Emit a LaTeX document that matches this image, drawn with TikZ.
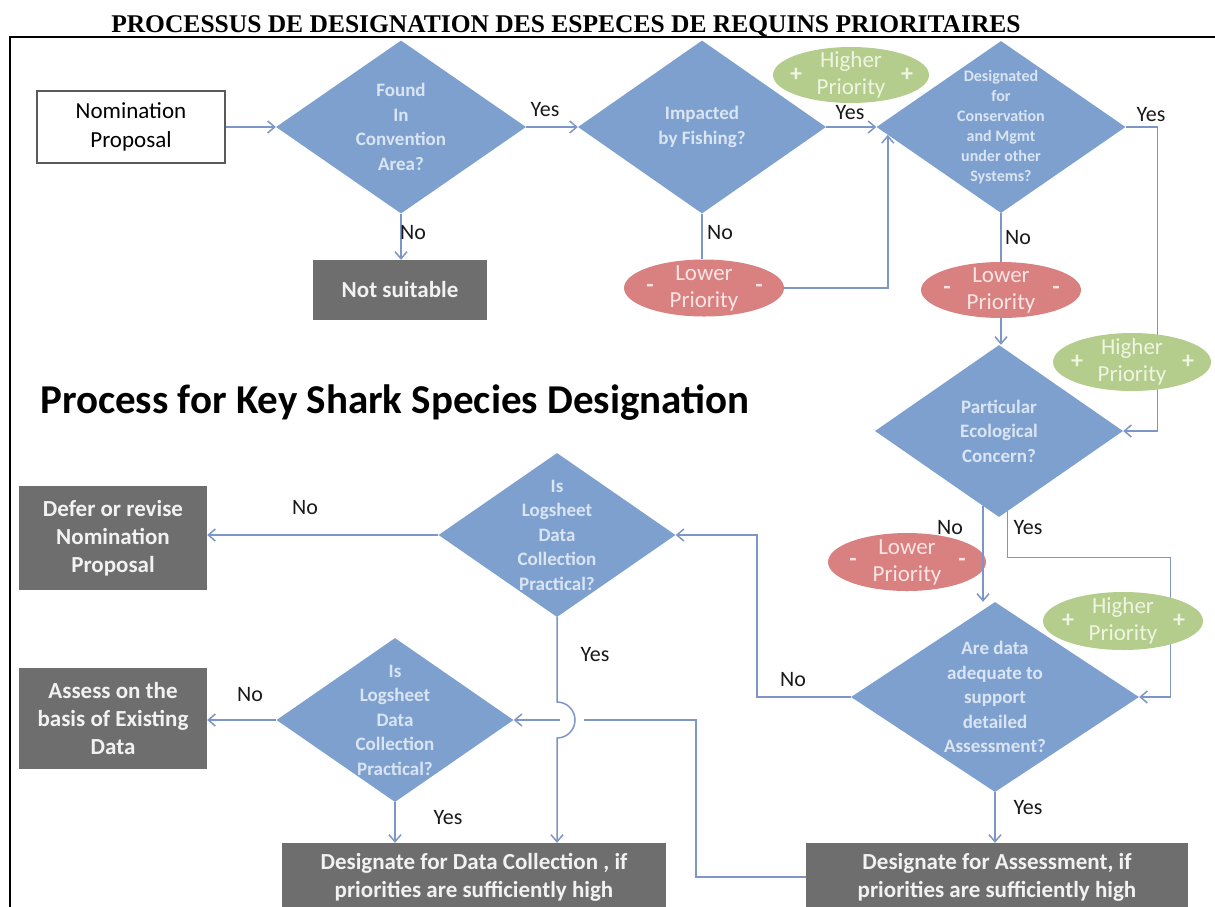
\documentclass[tikz,border=0pt]{standalone}
\usepackage{fontspec}
\setmainfont{Carlito}
\newfontfamily\serifttl{Liberation Serif}
\usetikzlibrary{shapes.geometric,arrows.meta,calc}
\pgfdeclarelayer{bg}
\pgfsetlayers{bg,main}
\definecolor{dia}{RGB}{126,160,206}
\definecolor{diatext}{RGB}{218,229,243}
\definecolor{gbox}{RGB}{110,110,110}
\definecolor{gtext}{RGB}{242,242,242}
\definecolor{redell}{RGB}{217,128,128}
\definecolor{redtext}{RGB}{250,228,228}
\definecolor{grell}{RGB}{180,205,140}
\definecolor{grtext}{RGB}{238,245,226}
\definecolor{connc}{RGB}{125,150,198}
\definecolor{nomb}{RGB}{90,90,90}
\begin{document}
\begin{tikzpicture}[x=1pt,y=-1pt,
  dm/.style={diamond, fill=dia, draw=none, inner sep=0pt},
  dtext/.style={align=center, text=diatext, inner sep=0pt, font=\bfseries\fontsize{19}{24.5}\selectfont},
  gb/.style={rectangle, fill=gbox, text=gtext, align=center, inner sep=0pt, font=\bfseries\fontsize{23}{28}\selectfont},
  ell/.style={ellipse, draw=none, inner sep=0pt},
  etext/.style={align=center, inner sep=0pt, font=\fontsize{23}{27}\selectfont},
  sgn/.style={inner sep=0pt, font=\bfseries\fontsize{24}{24}\selectfont},
  lbl/.style={inner sep=0pt, text=black!90, font=\fontsize{22}{22}\selectfont},
  conn/.style={draw=connc, line width=1.5pt},
  arr/.style={conn, -{Straight Barb[length=7pt,width=12pt]}}
]
\useasboundingbox (0,0) rectangle (1215,906);
\clip (0,0) rectangle (1215,906);

% title and frame
\node[anchor=base, font=\serifttl\bfseries\fontsize{25.5}{30}\selectfont] (title) at (566,32)
  {PROCESSUS DE DESIGNATION DES ESPECES DE REQUINS PRIORITAIRES};
\draw[line width=2pt] (1216,37) -- (10,37) -- (10,910);

\node[anchor=base west, inner sep=0pt, font=\bfseries\fontsize{41}{41}\selectfont] (heading) at (40,413)
  {Process for Key Shark Species Designation};

% boxes
\node[rectangle, draw=nomb, line width=2pt, fill=white, minimum width=188, minimum height=72,
  align=center, inner sep=0pt, font=\fontsize{23}{29}\selectfont] (nom) at (131,127) {Nomination\\Proposal};
\node[gb, minimum width=174, minimum height=60] (notsuit) at (400,290) {Not suitable};
\node[gb, minimum width=188, minimum height=104] (defer) at (113,538) {Defer or revise\\Nomination\\Proposal};
\node[gb, minimum width=188, minimum height=101] (assess) at (113,718) {Assess on the\\basis of Existing\\Data};
\node[gb, minimum width=384, minimum height=68] (ddc) at (474,877) {Designate for Data Collection , if\\priorities are sufficiently high};
\node[gb, minimum width=382, minimum height=68] (da) at (997,877) {Designate for Assessment, if\\priorities are sufficiently high};

% diamonds
\node[dm, minimum width=250, minimum height=173] (d1) at (401,127) {};
\node[dtext] (d1t) at (d1) {Found\\In\\Convention\\Area?};
\node[dm, minimum width=248, minimum height=173] (d2) at (702,127) {};
\node[dtext] (d2t) at (d2) {Impacted\\by Fishing?};
\node[dm, minimum width=249, minimum height=172] (d3) at (1001,127) {};
\node[dtext, font=\bfseries\fontsize{16}{20}\selectfont] (d3t) at (d3) {Designated\\for\\Conservation\\and Mgmt\\under other\\Systems?};
\node[dm, minimum width=248, minimum height=172] (d4) at (999,431) {};
\node[dtext] (d4t) at (d4) {Particular\\Ecological\\Concern?};
\node[dm, minimum width=288, minimum height=190] (d5) at (995,697) {};
\node[dtext] (d5t) at (d5) {Are data\\adequate to\\support\\detailed\\Assessment?};
\node[dm, minimum width=237, minimum height=164] (d6) at (557,535) {};
\node[dtext] (d6t) at (d6) {Is\\Logsheet\\Data\\Collection\\Practical?};
\node[dm, minimum width=237, minimum height=164] (d7) at (395,720) {};
\node[dtext] (d7t) at (d7) {Is\\Logsheet\\Data\\Collection\\Practical?};

% ellipses
\node[ell, fill=grell, minimum width=156, minimum height=56] (hp1) at (851,75) {};
\node[etext, text=grtext] (hp1t) at (hp1) {Higher\\Priority};
\node[sgn, text=grtext] (hp1a) at ($(hp1)+(-55,0)$) {+};
\node[sgn, text=grtext] (hp1b) at ($(hp1)+(56,0)$) {+};

\node[ell, fill=redell, minimum width=160, minimum height=57] (lp1) at (704,288) {};
\node[etext, text=redtext] (lp1t) at (lp1) {Lower\\Priority};
\node[sgn, text=redtext] (lp1a) at ($(lp1)+(-54,0)$) {-};
\node[sgn, text=redtext] (lp1b) at ($(lp1)+(55,0)$) {-};

\node[ell, fill=redell, minimum width=160, minimum height=56] (lp2) at (1001,290) {};
\node[etext, text=redtext] (lp2t) at (lp2) {Lower\\Priority};
\node[sgn, text=redtext] (lp2a) at ($(lp2)+(-54,0)$) {-};
\node[sgn, text=redtext] (lp2b) at ($(lp2)+(55,0)$) {-};

\node[ell, fill=grell, minimum width=158, minimum height=58] (hp2) at (1132,362) {};
\node[etext, text=grtext] (hp2t) at (hp2) {Higher\\Priority};
\node[sgn, text=grtext] (hp2a) at ($(hp2)+(-55,0)$) {+};
\node[sgn, text=grtext] (hp2b) at ($(hp2)+(56,0)$) {+};

\node[ell, fill=redell, minimum width=158, minimum height=58] (lp3) at (907,562) {};
\node[etext, text=redtext] (lp3t) at (lp3) {Lower\\Priority};
\node[sgn, text=redtext] (lp3a) at ($(lp3)+(-54,0)$) {-};
\node[sgn, text=redtext] (lp3b) at ($(lp3)+(55,0)$) {-};

\node[ell, fill=grell, minimum width=160, minimum height=58] (hp3) at (1123,621) {};
\node[etext, text=grtext] (hp3t) at (hp3) {Higher\\Priority};
\node[sgn, text=grtext] (hp3a) at ($(hp3)+(-55,0)$) {+};
\node[sgn, text=grtext] (hp3b) at ($(hp3)+(56,0)$) {+};

\coordinate (hop) at (d6.south |- d7.east);

% connectors
\begin{pgfonlayer}{bg}
\draw[arr] (nom.east) -- (d1.west);
\draw[arr] (d1.east) -- (d2.west);
\draw[arr] (d1.south) -- (d1.south |- notsuit.north);
\draw[conn] (d2.south) -- (d2.south |- lp1.north);
\draw[arr] (lp1.east) -| (d3.184);
\draw[arr] (d2.east) -- (d3.west);
\draw[arr] (d3.east) -- ++(32,0) |- (d4.east);
\draw[conn] (d3.south) -- (d3.south |- lp2.north);
\draw[arr] (lp2.south) -- (lp2.south |- d4.north);
\draw[arr] (d4.276) |- ++(163,46) |- (d5.east);
\draw[arr] (d5.west) -- ++(-94,0) |- (d6.east);
\draw[arr] (d5.south) -- (d5.south |- da.north);
\draw[arr] (d6.west) -- (d6.west -| defer.east);
\draw[arr] (da.west) -- ++(-110,0) |- (d7.east);
\draw[white, line width=4pt] ($(hop)+(3,0)$) -- ($(hop)+(27,0)$);
\draw[arr] (d6.south) -- ($(hop)+(0,-18)$) arc[start angle=90, end angle=-90, radius=18pt] -- (d6.south |- ddc.north);
\draw[arr] (d7.west) -- (d7.west -| assess.east);
\draw[arr] (d7.south) -- (d7.south |- ddc.north);
\end{pgfonlayer}
\draw[arr] (d4.258) -- (d4.258 |- d5.north);

% labels
\node[lbl] (y1) at (545,110) {Yes};
\node[lbl] (n1) at (413,233) {No};
\node[lbl] (y2) at (850,113) {Yes};
\node[lbl] (n2) at (720,233) {No};
\node[lbl] (y3) at (1151,115) {Yes};
\node[lbl] (n3) at (1018,238) {No};
\node[lbl] (n4) at (950,528) {No};
\node[lbl] (y4) at (1028,528) {Yes};
\node[lbl] (n5) at (793,680) {No};
\node[lbl] (y5) at (1028,808) {Yes};
\node[lbl] (n6) at (305,508) {No};
\node[lbl] (y6) at (595,655) {Yes};
\node[lbl] (n7) at (250,695) {No};
\node[lbl] (y7) at (448,818) {Yes};
\end{tikzpicture}
\end{document}
